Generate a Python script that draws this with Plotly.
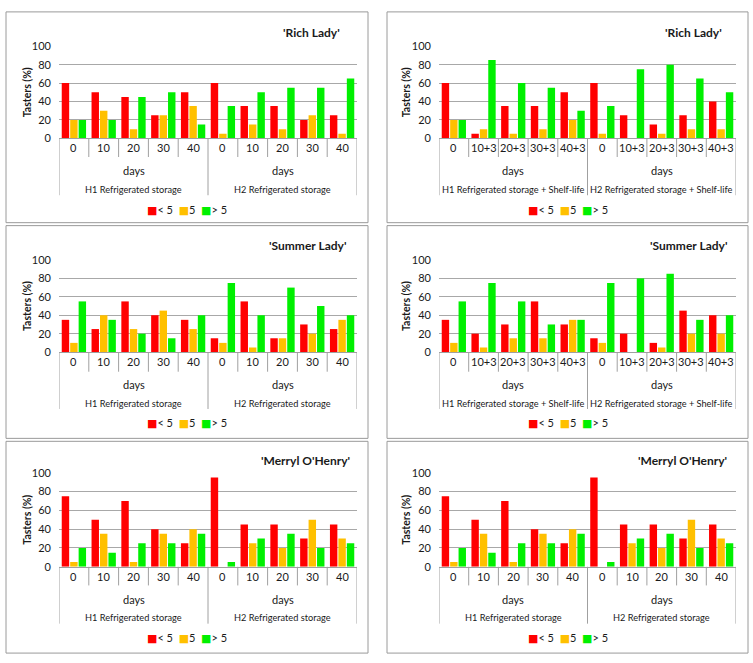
import plotly.graph_objects as go

W, H = 753, 663

series_names = ["< 5", "5", "> 5"]
series_colors = ["#FF0000", "#FFC000", "#00F000"]

days_storage = ["0", "10", "20", "30", "40"]
days_shelf = ["0", "10+3", "20+3", "30+3", "40+3"]

groups_storage = ["H1 Refrigerated storage", "H2 Refrigerated storage"]
groups_shelf = ["H1 Refrigerated storage + Shelf-life", "H2 Refrigerated storage + Shelf-life"]

# 'Rich Lady' - refrigerated storage (H1 0..40, H2 0..40)
rich_storage_lt5 = [60, 50, 45, 25, 50, 60, 35, 35, 20, 25]
rich_storage_eq5 = [20, 30, 10, 25, 35, 5, 15, 10, 25, 5]
rich_storage_gt5 = [20, 20, 45, 50, 15, 35, 50, 55, 55, 65]

# 'Rich Lady' - storage + shelf-life
rich_shelf_lt5 = [60, 5, 35, 35, 50, 60, 25, 15, 25, 40]
rich_shelf_eq5 = [20, 10, 5, 10, 20, 5, 0, 5, 10, 10]
rich_shelf_gt5 = [20, 85, 60, 55, 30, 35, 75, 80, 65, 50]

# 'Summer Lady' - refrigerated storage
summer_storage_lt5 = [35, 25, 55, 40, 35, 15, 55, 15, 30, 25]
summer_storage_eq5 = [10, 40, 25, 45, 25, 10, 5, 15, 20, 35]
summer_storage_gt5 = [55, 35, 20, 15, 40, 75, 40, 70, 50, 40]

# 'Summer Lady' - storage + shelf-life
summer_shelf_lt5 = [35, 20, 30, 55, 30, 15, 20, 10, 45, 40]
summer_shelf_eq5 = [10, 5, 15, 15, 35, 10, 0, 5, 20, 20]
summer_shelf_gt5 = [55, 75, 55, 30, 35, 75, 80, 85, 35, 40]

# 'Merryl O'Henry' - left panel
merryl_left_lt5 = [75, 50, 70, 40, 25, 95, 45, 45, 30, 45]
merryl_left_eq5 = [5, 35, 5, 35, 40, 0, 25, 20, 50, 30]
merryl_left_gt5 = [20, 15, 25, 25, 35, 5, 30, 35, 20, 25]

# 'Merryl O'Henry' - right panel
merryl_right_lt5 = [75, 50, 70, 40, 25, 95, 45, 45, 30, 45]
merryl_right_eq5 = [5, 35, 5, 35, 40, 0, 25, 20, 50, 30]
merryl_right_gt5 = [20, 15, 25, 25, 35, 5, 30, 35, 20, 25]

panels = [
    dict(title="'Rich Lady'", days=days_storage, groups=groups_storage,
         data=[rich_storage_lt5, rich_storage_eq5, rich_storage_gt5], row=0, col=0, tr=342),
    dict(title="'Rich Lady'", days=days_shelf, groups=groups_shelf,
         data=[rich_shelf_lt5, rich_shelf_eq5, rich_shelf_gt5], row=0, col=1, tr=724),
    dict(title="'Summer Lady'", days=days_storage, groups=groups_storage,
         data=[summer_storage_lt5, summer_storage_eq5, summer_storage_gt5], row=1, col=0, tr=348),
    dict(title="'Summer Lady'", days=days_shelf, groups=groups_shelf,
         data=[summer_shelf_lt5, summer_shelf_eq5, summer_shelf_gt5], row=1, col=1, tr=729),
    dict(title="'Merryl O'Henry'", days=days_storage, groups=groups_storage,
         data=[merryl_left_lt5, merryl_left_eq5, merryl_left_gt5], row=2, col=0, tr=352),
    dict(title="'Merryl O'Henry'", days=days_storage, groups=groups_storage,
         data=[merryl_right_lt5, merryl_right_eq5, merryl_right_gt5], row=2, col=1, tr=729),
]

# layout in pixels
rows = [
    dict(box=(5, 220), title=26, top=40, zero=134, daysep=153, days=167, group=186, gsep=192, legend=207),
    dict(box=(223, 440), title=243, top=258, zero=352, daysep=372, days=385, group=404, gsep=410, legend=424),
    dict(box=(443, 659), title=463, top=475, zero=571, daysep=590, days=604, group=623, gsep=629, legend=644),
]
cols = [
    dict(box=(6, 368), left=59, right=357, ylab=27),
    dict(box=(387, 748), left=439, right=736, ylab=406),
]

FONT = "Lato, 'Open Sans', sans-serif"
TXT = "#1a1a1a"
GRID = "#a8a8a8"
SEP = "#a0a0a0"


def fx(p):
    return p / W


def fy(p):
    return 1 - p / H


fig = go.Figure()
shapes = []
annotations = []
layout_axes = {}

for k, pnl in enumerate(panels):
    n = k + 1
    r = rows[pnl["row"]]
    c = cols[pnl["col"]]
    xname = "x" if n == 1 else f"x{n}"
    yname = "y" if n == 1 else f"y{n}"
    labels = pnl["days"] + pnl["days"]
    idx = list(range(len(labels)))
    for s, (name, color) in enumerate(zip(series_names, series_colors)):
        fig.add_trace(go.Bar(
            x=idx, y=pnl["data"][s], name=name, marker=dict(color=color, line=dict(width=0)),
            xaxis=xname, yaxis=yname, showlegend=False, offsetgroup=str(s),
        ))
    xa = "xaxis" if n == 1 else f"xaxis{n}"
    ya = "yaxis" if n == 1 else f"yaxis{n}"
    layout_axes[xa] = dict(
        domain=[fx(c["left"]), fx(c["right"])], anchor=yname, range=[-0.5, len(labels) - 0.5],
        showticklabels=False, ticks="", showgrid=False,
        showline=True, linecolor=SEP, linewidth=1, zeroline=False, fixedrange=True,
    )
    layout_axes[ya] = dict(
        domain=[fy(r["zero"]), fy(r["top"])], anchor=xname, range=[0, 100], dtick=20,
        showgrid=True, gridcolor=GRID, gridwidth=1, zeroline=False, showline=False,
        tickfont=dict(family=FONT, size=11, color=TXT), ticks="", ticklabelstandoff=7,
        fixedrange=True,
    )
    # panel border
    shapes.append(dict(type="rect", xref="paper", yref="paper",
                       x0=fx(c["box"][0]), x1=fx(c["box"][1]), y0=fy(r["box"][1]), y1=fy(r["box"][0]),
                       line=dict(color="#9a9a9a", width=1), fillcolor="rgba(0,0,0,0)", layer="below"))
    # day labels
    for i, lab in zip(idx, labels):
        annotations.append(dict(xref=xname, yref="paper", x=i, y=fy((r["zero"] + r["daysep"]) / 2),
                                text=lab, showarrow=False, font=dict(family=FONT, size=11, color=TXT),
                                xanchor="center", yanchor="middle"))
    # day separators
    for i in range(len(labels) - 1):
        if i + 1 == len(pnl["days"]):
            continue
        shapes.append(dict(type="line", xref=xname, yref="paper", x0=i + 0.5, x1=i + 0.5,
                           y0=fy(r["zero"]), y1=fy(r["daysep"]), line=dict(color=SEP, width=1)))
    # group separators
    for xv in [-0.5, len(pnl["days"]) - 0.5, len(labels) - 0.5]:
        shapes.append(dict(type="line", xref=xname, yref="paper", x0=xv, x1=xv,
                           y0=fy(r["zero"]), y1=fy(r["gsep"]), line=dict(color=SEP, width=1)))
    # "days" and group labels
    for g, gl in enumerate(pnl["groups"]):
        xc = g * len(pnl["days"]) + (len(pnl["days"]) - 1) / 2
        annotations.append(dict(xref=xname, yref="paper", x=xc, y=fy(r["days"]), text="days",
                                showarrow=False, font=dict(family=FONT, size=11, color=TXT),
                                xanchor="center", yanchor="middle"))
        annotations.append(dict(xref=xname, yref="paper", x=xc, y=fy(r["group"]), text=gl,
                                showarrow=False, font=dict(family=FONT, size=9.2, color=TXT),
                                xanchor="center", yanchor="middle"))
    # title
    annotations.append(dict(xref="paper", yref="paper", x=fx(pnl["tr"]), y=fy(r["title"]),
                            text="<b>" + pnl["title"] + "</b>", showarrow=False,
                            font=dict(family=FONT, size=12, color=TXT), xanchor="right", yanchor="middle"))
    # y axis title
    annotations.append(dict(xref="paper", yref="paper", x=fx(c["ylab"]), y=fy((r["top"] + r["zero"]) / 2),
                            text="<b>Tasters (%)</b>", textangle=-90, showarrow=False,
                            font=dict(family=FONT, size=10.5, color=TXT), xanchor="center", yanchor="middle"))
    # legend (compact, Excel-like)
    parts = []
    for name, color in zip(series_names, series_colors):
        nm = name.replace("<", "&lt;").replace(">", "&gt;")
        parts.append(f"<span style='color:{color};font-family:DejaVu Sans'>■</span>{nm}")
    annotations.append(dict(xref="paper", yref="paper", x=fx((c["box"][0] + c["box"][1]) / 2),
                            y=fy(r["legend"]), text="&nbsp;&nbsp;".join(parts), showarrow=False,
                            font=dict(family=FONT, size=11, color=TXT), xanchor="center", yanchor="middle"))

fig.update_layout(
    width=W, height=H, margin=dict(l=0, r=0, t=0, b=0),
    paper_bgcolor="white", plot_bgcolor="white",
    barmode="group", bargap=0.15, bargroupgap=0.12,
    shapes=shapes, annotations=annotations, showlegend=False,
    font=dict(family=FONT, size=11, color=TXT),
    **layout_axes,
)

fig.write_html("out.html")
